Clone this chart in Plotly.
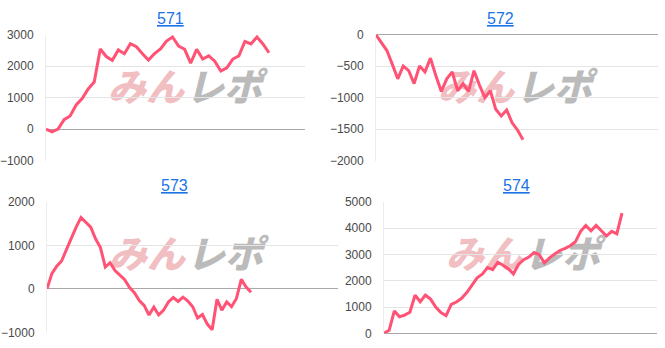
import plotly.graph_objects as go

# ---- data ----
titles = ["571", "572", "573", "574"]

s571 = [0, -90, 0, 300, 420, 770, 970, 1280, 1500, 2550, 2310, 2190, 2520, 2400, 2720, 2620,
        2400, 2200, 2400, 2550, 2800, 2930, 2640, 2540, 2100, 2540, 2230, 2330, 2160, 1850,
        1950, 2230, 2330, 2790, 2710, 2930, 2710, 2430]
s572 = [0, -120, -250, -470, -700, -495, -570, -775, -495, -590, -370, -650, -900, -700, -590,
        -890, -780, -900, -570, -800, -1000, -890, -1185, -1290, -1195, -1400, -1515, -1670]
s573 = [0, 350, 520, 640, 900, 1170, 1420, 1640, 1540, 1420, 1150, 950, 500, 600, 420, 320, 210,
        30, -90, -270, -380, -600, -420, -600, -490, -300, -200, -290, -190, -280, -410, -670,
        -590, -810, -940, -240, -490, -300, -410, -220, 220, 40, -80]
s574 = [0, 120, 850, 630, 690, 800, 1450, 1200, 1450, 1300, 1000, 790, 670, 1100, 1190, 1330,
        1550, 1840, 2110, 2250, 2500, 2420, 2700, 2590, 2460, 2260, 2620, 2800, 2900, 3070, 2990,
        2680, 2870, 3020, 3150, 3230, 3330, 3480, 3880, 4100, 3900, 4100, 3900, 3700, 3880, 3780,
        4570]
series = [s571, s572, s573, s574]

y_ranges = [[-1000, 3000], [-2000, 0], [-1000, 2000], [0, 5000]]
y_dticks = [1000, 500, 1000, 1000]

# ---- layout geometry (pixels) ----
W, H = 665, 348
# plot boxes: left, top, right, bottom ; and x pixel where the line ends
boxes = [(46, 29, 305, 160), (376, 29, 658, 160), (47, 203, 338, 339), (384, 203, 657, 340)]
line_end = [269, 523, 251, 622]
title_pos = [(170, 12), (500, 12), (174, 186), (516, 186)]

LINE = "#ff5274"
fig = go.Figure()
shapes = []
annotations = []

for i, (vals, box) in enumerate(zip(series, boxes)):
    l, t, r, b = box
    n = len(vals)
    xr = (n - 1) * (r - l) / (line_end[i] - l)
    xa = "x" if i == 0 else f"x{i+1}"
    ya = "y" if i == 0 else f"y{i+1}"
    fig.add_trace(go.Scatter(x=list(range(n)), y=vals, mode="lines",
                             line=dict(color=LINE, width=3),
                             xaxis=xa, yaxis=ya, hoverinfo="skip", showlegend=False))
    xkey = "xaxis" if i == 0 else f"xaxis{i+1}"
    ykey = "yaxis" if i == 0 else f"yaxis{i+1}"
    fig.layout[xkey] = dict(domain=[l / W, r / W], range=[0, xr], showgrid=False,
                            zeroline=False, showticklabels=False, ticks="",
                            anchor=ya, fixedrange=True)
    fig.layout[ykey] = dict(domain=[1 - b / H, 1 - t / H], range=y_ranges[i],
                            dtick=y_dticks[i], tick0=0, showgrid=True, gridcolor="#e4e4e4",
                            gridwidth=1, zeroline=True, zerolinecolor="#a9a9a9",
                            zerolinewidth=1, showline=True, linecolor="#ececec", linewidth=1,
                            ticks="", ticklabelstandoff=9,
                            tickfont=dict(family="Liberation Sans, Arial", size=12, color="#4a4a4a"),
                            anchor=xa, fixedrange=True)
    # watermark logo (behind the line)
    for txt, cx, col in [("みん", 100, "rgba(238,172,178,0.8)"), ("レポ", 178, "rgba(165,165,165,0.75)")]:
        x0 = (l + cx - 40) / W
        x1 = (l + cx + 40) / W
        y0 = 1 - (t + 58 + 20) / H
        y1 = 1 - (t + 58 - 20) / H
        shapes.append(dict(type="rect", xref="paper", yref="paper", x0=x0, x1=x1, y0=y0, y1=y1,
                           line=dict(width=0), fillcolor="rgba(0,0,0,0)", layer="between",
                           label=dict(text="<b><i>" + txt + "</i></b>", textposition="middle center",
                                      font=dict(family="Noto Sans CJK JP Black, Noto Sans CJK JP",
                                                size=38, color=col))))
    tx, ty = title_pos[i]
    annotations.append(dict(text="<u>" + titles[i] + "</u>", x=tx / W, y=1 - ty / H,
                            xref="paper", yref="paper", xanchor="center", yanchor="middle",
                            showarrow=False,
                            font=dict(family="Liberation Sans, Arial", size=16, color="#1a73e8")))

fig.update_layout(width=W, height=H, margin=dict(l=0, r=0, t=0, b=0),
                  paper_bgcolor="white", plot_bgcolor="white",
                  shapes=shapes, annotations=annotations, showlegend=False,
                  hovermode=False)

fig.write_html("out.html", config={"displayModeBar": False})
